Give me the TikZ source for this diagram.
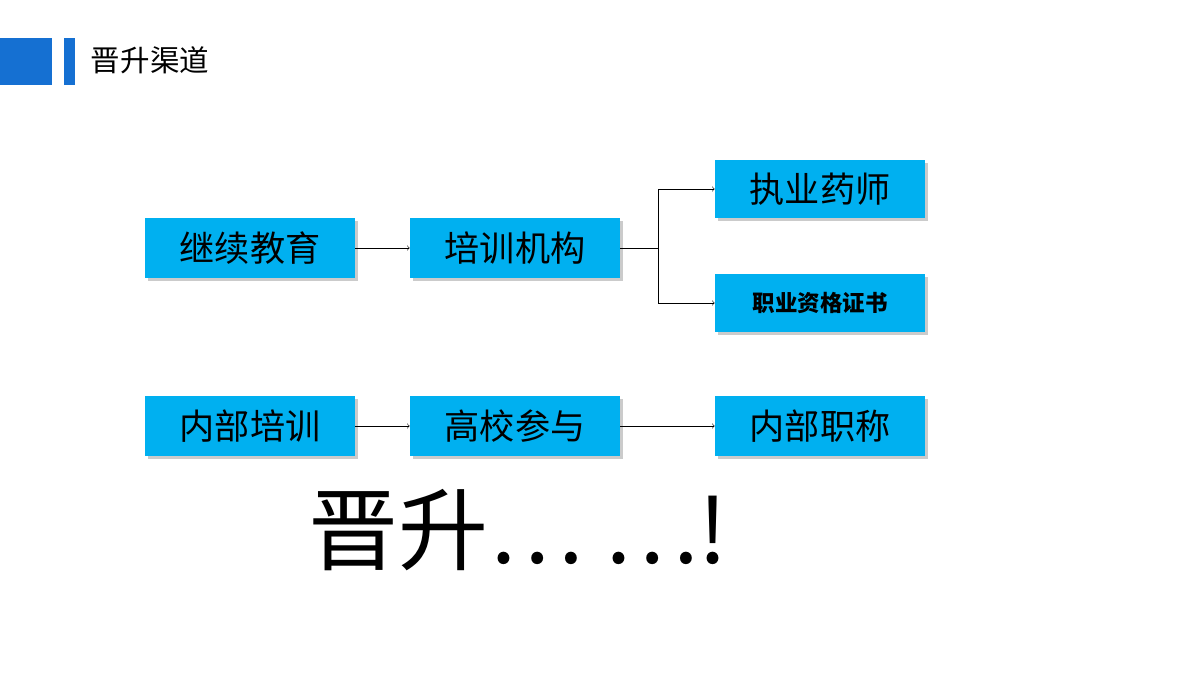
\documentclass[tikz,border=0pt]{standalone}
\usepackage{fontspec}
\setmainfont{Noto Sans CJK SC}
\usetikzlibrary{positioning}
\definecolor{boxblue}{RGB}{0,176,240}
\definecolor{headblue}{RGB}{21,112,210}
\tikzset{
  stagebox/.style={fill=boxblue,minimum width=5.25cm,minimum height=1.5cm,
    font=\fontsize{25}{28}\selectfont,drop shadow={fill=black!40,shadow xshift=2pt,shadow yshift=-2pt}},
  link/.style={->,thin}
}
\usetikzlibrary{shadows}
\begin{document}
\begin{tikzpicture}[x=0.025cm,y=-0.025cm]
  \useasboundingbox[fill=white](0,0) rectangle (1200,675);
  \fill[headblue](0,38) rectangle (52,85);
  \fill[headblue](64,38) rectangle (75,85);
  \node[anchor=west,font=\fontsize{21}{24}\selectfont](title) at(86,60) {晋升渠道};

  \node[stagebox](jxjy) at(250,248) {继续教育};
  \node[stagebox](pxjg) at(515,248) {培训机构};
  \node[stagebox,minimum height=1.45cm](zyys) at(820,189) {执业药师};
  \node[stagebox,minimum height=1.45cm,font=\fontsize{16}{18}\selectfont\bfseries](zgzs) at(820,303) {职业资格证书};
  \node[stagebox](nbpx) at(250,426) {内部培训};
  \node[stagebox](gxcy) at(515,426) {高校参与};
  \node[stagebox](nbzc) at(820,426) {内部职称};

  \coordinate (fork) at(658,248);
  \foreach \x/\y in{jxjy/pxjg, nbpx/gxcy, gxcy/nbzc}{
    \draw[link](\x)--(\y);
  }
  \draw(pxjg)--(fork);
  \draw[link](fork)|-(zyys);
  \draw[link](fork)|-(zgzs);

  \node[font=\fontsize{64}{70}\selectfont](slogan) at(518,530) {晋升… …!};
\end{tikzpicture}
\end{document}
